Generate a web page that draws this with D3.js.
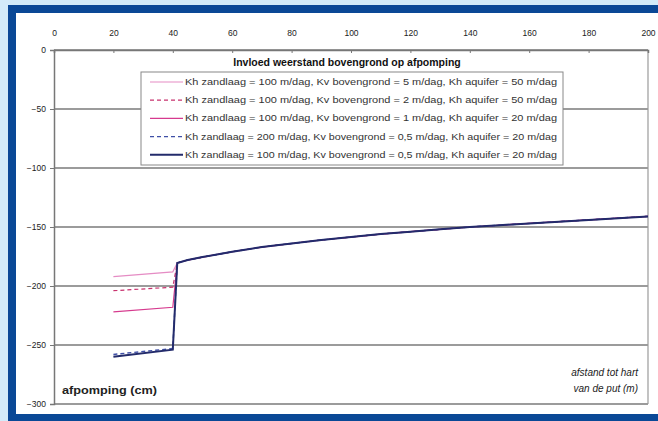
<!DOCTYPE html>
<html>
<head>
<meta charset="utf-8">
<script src="https://cdn.jsdelivr.net/npm/d3@7"></script>
<style>
  html, body { margin: 0; padding: 0; background: #d3ebf9; }
  svg { display: block; }
  text { font-family: "Liberation Sans", Arial, sans-serif; }
</style>
</head>
<body>
<svg id="chart" width="658" height="421"></svg>
<script>
// Afstand tot hart van de put (m) en afpomping (cm)
const xTicks = [0, 20, 40, 60, 80, 100, 120, 140, 160, 180, 200];
const yTicks = [0, -50, -100, -150, -200, -250, -300];

// Gedeelte binnen de put (20 - 40 m) per scenario
const nearX = [20, 40];
const nearS1 = [-192, -188];
const nearS2 = [-204, -201];
const nearS3 = [-222, -218];
const nearS4 = [-258, -253];
const nearS5 = [-260, -254];

// Gemeenschappelijke verlaging buiten de put
const farX = [41.5, 45, 50, 60, 70, 80, 90, 100, 110, 120, 130, 140, 150, 160, 170, 180, 190, 200];
const farY = [-180.5, -178, -175.5, -171, -167, -164, -161, -158.5, -156, -154, -152, -150, -148.5, -147, -145.5, -144, -142.5, -141];

const titleText = "Invloed weerstand bovengrond op afpomping";
const seriesNames = [
  "Kh zandlaag = 100 m/dag, Kv bovengrond = 5 m/dag, Kh aquifer = 50 m/dag",
  "Kh zandlaag = 100 m/dag, Kv bovengrond = 2 m/dag, Kh aquifer = 50 m/dag",
  "Kh zandlaag = 100 m/dag, Kv bovengrond = 1 m/dag, Kh aquifer = 20 m/dag",
  "Kh zandlaag = 200 m/dag, Kv bovengrond = 0,5 m/dag, Kh aquifer = 20 m/dag",
  "Kh zandlaag = 100 m/dag, Kv bovengrond = 0,5 m/dag, Kh aquifer = 20 m/dag"
];
const seriesNear = [nearS1, nearS2, nearS3, nearS4, nearS5];
const seriesColor = ["#e58cc4", "#c8326e", "#d63a8e", "#3f4fa6", "#232b6b"];
const seriesDash = [null, "4,3", null, "4,3", null];
const seriesWidth = [1.2, 1.2, 1.2, 1.4, 2];

const svg = d3.select("#chart");

// Kader van de pagina
svg.append("rect").attr("x", 8).attr("y", 5).attr("width", 660).attr("height", 430).attr("fill", "#0a4896");
svg.append("rect").attr("x", 16).attr("y", 13).attr("width", 650).attr("height", 401).attr("fill", "#ffffff");

const plotL = 54, plotR = 648, plotT = 50, plotB = 404;
const x = d3.scaleLinear().domain([0, 200]).range([plotL, plotR]);
const y = d3.scaleLinear().domain([-300, 0]).range([plotB, plotT]);

// Horizontale rasterlijnen
svg.append("g").selectAll("line").data(yTicks).join("line")
  .attr("x1", plotL).attr("x2", plotR)
  .attr("y1", d => y(d)).attr("y2", d => y(d))
  .attr("stroke", "#7a7a7a").attr("stroke-width", 1.5);

// Rand van het grafiekvlak
svg.append("line").attr("x1", plotR).attr("x2", plotR).attr("y1", plotT).attr("y2", plotB)
  .attr("stroke", "#9a9a9a").attr("stroke-width", 1.2);

// X-as bovenaan
const xAxis = svg.append("g").attr("transform", `translate(0,${plotT})`)
  .call(d3.axisTop(x).tickValues(xTicks).tickSize(-3).tickPadding(14).tickFormat(d3.format("d")));
xAxis.select(".domain").attr("stroke", "#777").attr("stroke-width", 1.5);
xAxis.selectAll(".tick line").attr("stroke", "#777");
xAxis.selectAll("text").attr("font-size", 8.5).attr("fill", "#222")
  .attr("font-family", "Liberation Sans, Arial, sans-serif");

// Y-as links
const yAxis = svg.append("g").attr("transform", `translate(${plotL},0)`)
  .call(d3.axisLeft(y).tickValues(yTicks).tickSize(4).tickPadding(4).tickFormat(d3.format("d")));
yAxis.select(".domain").attr("stroke", "#777").attr("stroke-width", 1.5);
yAxis.selectAll(".tick line").attr("stroke", "#777");
yAxis.selectAll("text").attr("font-size", 8.5).attr("fill", "#222")
  .attr("font-family", "Liberation Sans, Arial, sans-serif");

// Lijnen per scenario
const line = d3.line().x(d => x(d[0])).y(d => y(d[1]));
const farPts = farX.map((v, i) => [v, farY[i]]);
seriesNear.forEach((near, i) => {
  const pts = nearX.map((v, j) => [v, near[j]]).concat(farPts);
  svg.append("path").datum(pts)
    .attr("d", line)
    .attr("fill", "none")
    .attr("stroke", seriesColor[i])
    .attr("stroke-width", seriesWidth[i])
    .attr("stroke-dasharray", seriesDash[i]);
});

// Titel
svg.append("text").attr("x", 347).attr("y", 66).attr("text-anchor", "middle")
  .attr("font-size", 10.5).attr("font-weight", "bold").attr("fill", "#111")
  .text(titleText);

// Legenda
const lg = svg.append("g");
lg.append("rect").attr("x", 141).attr("y", 72).attr("width", 422).attr("height", 93)
  .attr("fill", "#fff").attr("stroke", "#888").attr("stroke-width", 1);
seriesNames.forEach((name, i) => {
  const cy = 82 + i * 18.2;
  lg.append("line").attr("x1", 150).attr("x2", 183).attr("y1", cy).attr("y2", cy)
    .attr("stroke", seriesColor[i]).attr("stroke-width", seriesWidth[i])
    .attr("stroke-dasharray", seriesDash[i]);
  lg.append("text").attr("x", 185).attr("y", cy + 3).attr("font-size", 8.6).attr("fill", "#333")
    .attr("textLength", 372).attr("lengthAdjust", "spacingAndGlyphs")
    .text(name);
});

// Astitels
svg.append("text").attr("x", 62).attr("y", 394).attr("font-size", 10).attr("font-weight", "bold")
  .attr("fill", "#222").attr("textLength", 95).attr("lengthAdjust", "spacingAndGlyphs")
  .text("afpomping (cm)");
svg.append("text").attr("x", 638).attr("y", 376).attr("text-anchor", "end").attr("font-size", 10)
  .attr("font-style", "italic").attr("fill", "#222").text("afstand tot hart");
svg.append("text").attr("x", 638).attr("y", 392).attr("text-anchor", "end").attr("font-size", 10)
  .attr("font-style", "italic").attr("fill", "#222").text("van de put (m)");
</script>
</body>
</html>
